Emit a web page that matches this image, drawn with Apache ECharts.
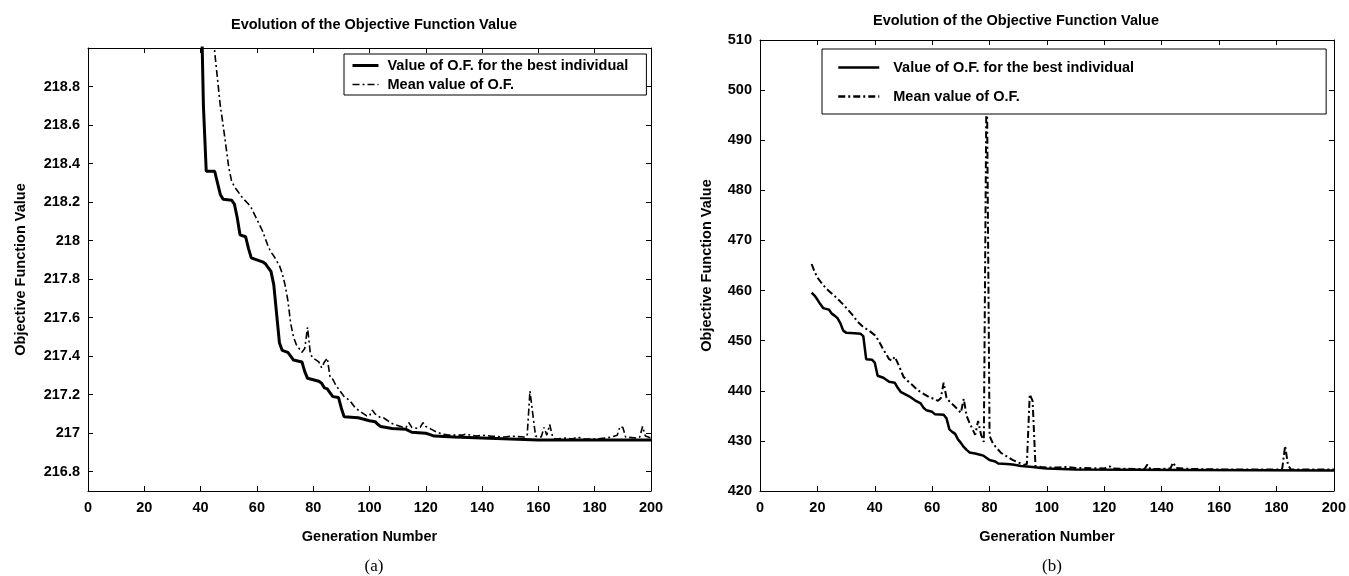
<!DOCTYPE html>
<html><head><meta charset="utf-8">
<script src="https://cdn.jsdelivr.net/npm/echarts@6/dist/echarts.min.js"></script>
<style>html,body{margin:0;padding:0;background:#fff}#c{width:1349px;height:576px}</style>
</head><body><div id="c"></div>
<script>
// ---------- data ----------
const chartTitle = 'Evolution of the Objective Function Value';
const xName = 'Generation Number';
const yName = 'Objective Function Value';
const bestName = 'Value of O.F. for the best individual';
const meanName = 'Mean value of O.F.';
const xTicks = [0, 20, 40, 60, 80, 100, 120, 140, 160, 180, 200];
const leftYTicks = [216.8, 217, 217.2, 217.4, 217.6, 217.8, 218, 218.2, 218.4, 218.6, 218.8];
const rightYTicks = [420, 430, 440, 450, 460, 470, 480, 490, 500, 510];

// (a) best individual
const aBestGen = [38, 40, 41, 42, 45, 46, 47, 48, 51, 52, 53, 54, 56, 57, 58, 62, 63, 64, 65, 66, 67, 68, 69, 71, 72, 73, 76, 77, 78, 82, 83, 84, 85, 86, 87, 89, 90, 91, 96, 100, 102, 103, 104, 108, 113, 115, 120, 121, 123, 130, 140, 150, 160, 200];
const aBestVal = [222.0, 219.4, 218.7, 218.36, 218.36, 218.30, 218.24, 218.215, 218.21, 218.19, 218.12, 218.03, 218.02, 217.96, 217.91, 217.89, 217.88, 217.86, 217.84, 217.77, 217.62, 217.47, 217.43, 217.42, 217.40, 217.38, 217.37, 217.32, 217.285, 217.27, 217.26, 217.235, 217.23, 217.21, 217.19, 217.185, 217.13, 217.085, 217.08, 217.065, 217.06, 217.045, 217.035, 217.025, 217.02, 217.005, 217.0, 216.995, 216.985, 216.98, 216.975, 216.97, 216.965, 216.965];
// (a) mean
const aMeanGen = [42, 44, 45, 46, 47, 48, 49, 50, 51, 52, 53, 55, 57, 58, 60, 62, 64, 65, 66, 68, 69, 70, 71, 72, 73, 74, 76, 77, 78, 79, 80, 82, 83, 84, 85, 86, 87, 88, 90, 91, 93, 95, 97, 99, 100, 101, 102, 104, 105, 106, 108, 110, 112, 113, 114, 115, 117, 118, 119, 120, 121, 122, 124, 126, 128, 133, 134, 136, 138, 140, 143, 148, 150, 155, 156, 157, 158, 159, 161, 162, 163, 164, 165, 166, 170, 172, 174, 176, 180, 184, 186, 188, 189, 190, 191, 195, 196, 197, 198, 200];
const aMeanVal = [222.0, 219.3, 218.98, 218.84, 218.70, 218.60, 218.49, 218.38, 218.31, 218.28, 218.26, 218.22, 218.19, 218.17, 218.11, 218.05, 217.97, 217.94, 217.92, 217.87, 217.83, 217.77, 217.69, 217.57, 217.50, 217.46, 217.42, 217.44, 217.55, 217.41, 217.39, 217.37, 217.34, 217.37, 217.39, 217.29, 217.28, 217.25, 217.21, 217.19, 217.17, 217.13, 217.11, 217.09, 217.09, 217.12, 217.10, 217.08, 217.08, 217.07, 217.05, 217.04, 217.03, 217.03, 217.055, 217.03, 217.025, 217.03, 217.055, 217.035, 217.03, 217.02, 217.005, 216.995, 216.99, 216.99, 216.995, 216.99, 216.985, 216.99, 216.985, 216.98, 216.985, 216.98, 216.985, 217.22, 217.10, 216.985, 216.98, 217.03, 216.99, 217.045, 216.985, 216.97, 216.975, 216.97, 216.98, 216.97, 216.97, 216.975, 216.98, 216.99, 217.035, 217.03, 216.98, 216.975, 216.98, 217.035, 216.985, 216.975];

// (b) best individual
const bBestGen = [18, 19, 20, 21, 22, 24, 25, 26, 27, 28, 29, 30, 33, 35, 36, 37, 39, 40, 41, 43, 44, 45, 47, 48, 49, 51, 52, 54, 56, 57, 58, 60, 61, 64, 65, 66, 67, 68, 69, 70, 71, 72, 73, 75, 77, 78, 79, 80, 82, 83, 86, 88, 91, 95, 98, 100, 110, 150, 200];
const bBestVal = [459.6, 459.0, 458.2, 457.3, 456.5, 456.2, 455.4, 455.0, 454.5, 453.5, 452.0, 451.6, 451.5, 451.4, 450.9, 446.3, 446.2, 445.6, 443.0, 442.6, 442.2, 441.8, 441.6, 440.6, 439.8, 439.2, 438.9, 438.1, 437.5, 436.6, 436.1, 435.8, 435.3, 435.2, 434.5, 432.3, 431.8, 431.4, 430.3, 429.6, 428.8, 428.2, 427.7, 427.5, 427.2, 427.0, 426.6, 426.2, 425.9, 425.5, 425.4, 425.3, 425.0, 424.8, 424.6, 424.5, 424.3, 424.2, 424.1];
// (b) mean
const bMeanGen = [18, 19, 20, 22, 24, 26, 28, 30, 32, 34, 36, 38, 40, 41, 42, 43, 44, 45, 46, 47, 48, 49, 50, 51, 53, 55, 57, 59, 61, 62, 63, 64, 65, 66, 68, 70, 71, 72, 73, 74, 75, 76, 77, 78, 79, 80, 81, 82, 84, 86, 88, 90, 92, 93, 94, 95, 96, 98, 100, 104, 107, 110, 120, 122, 123, 130, 134, 135, 136, 140, 143, 144, 145, 150, 160, 170, 181, 182, 183, 184, 185, 200];
const bMeanVal = [465.3, 463.8, 462.6, 461.1, 459.9, 458.9, 457.8, 456.6, 455.3, 453.8, 452.7, 452.0, 451.1, 450.3, 449.3, 448.2, 447.3, 446.3, 446.0, 446.8, 445.5, 444.2, 442.8, 442.2, 441.2, 440.1, 439.4, 438.7, 438.3, 438.0, 438.5, 441.6, 438.6, 437.9, 436.8, 435.6, 438.4, 435.0, 433.6, 432.4, 431.2, 434.0, 431.3, 429.8, 507.0, 431.0, 429.7, 428.9, 427.6, 426.9, 426.2, 425.7, 425.2, 425.4, 439.3, 438.0, 425.0, 424.8, 424.7, 424.7, 424.8, 424.6, 424.5, 424.9, 424.5, 424.4, 424.4, 425.3, 424.4, 424.4, 424.5, 425.7, 424.6, 424.4, 424.3, 424.3, 424.3, 424.5, 429.0, 425.2, 424.3, 424.3];

// ---------- helpers ----------
const zip = (xs, ys) => xs.map((x, i) => [x, ys[i]]);
const FONT = 'Liberation Sans';
const txt = { fontFamily: FONT, fontWeight: 'bold', fontSize: 14.5, color: '#000' };
const axisLine = { show: true, onZero: false, lineStyle: { color: '#000', width: 1 } };
const tickIn = { show: true, inside: true, length: 5, lineStyle: { color: '#000', width: 1 } };
const dashDot = [7, 3, 2, 3];
const noSymbol = { color: 'rgba(0,0,0,0)', borderColor: 'rgba(0,0,0,0)', borderWidth: 0, opacity: 0 };

function xAxes(g, nameGap) {
  return [
    { type: 'value', gridIndex: g, position: 'bottom', min: 0, max: 200, interval: 20,
      axisLine, axisTick: tickIn, splitLine: { show: false },
      axisLabel: Object.assign({ margin: 9 }, txt),
      name: xName, nameLocation: 'middle', nameGap: nameGap, nameTextStyle: txt },
    { type: 'value', gridIndex: g, position: 'top', min: 0, max: 200, interval: 20,
      axisLine, axisTick: tickIn, splitLine: { show: false }, axisLabel: { show: false } }
  ];
}
function yAxes(g, min, max, ticks, nameGap) {
  const fmt = v => String(+(+v).toFixed(1));
  return [
    { type: 'value', gridIndex: g, position: 'left', min, max,
      axisLine, splitLine: { show: false },
      axisTick: Object.assign({ customValues: ticks }, tickIn),
      axisLabel: Object.assign({ customValues: ticks, formatter: fmt, margin: 8 }, txt),
      name: yName, nameLocation: 'middle', nameGap: nameGap, nameRotate: 90, nameTextStyle: txt },
    { type: 'value', gridIndex: g, position: 'right', min, max,
      axisLine, splitLine: { show: false },
      axisTick: Object.assign({ customValues: ticks }, tickIn),
      axisLabel: { show: false } }
  ];
}

const chart = echarts.init(document.getElementById('c'), null, { renderer: 'canvas' });
chart.setOption({
  animation: false,
  backgroundColor: '#fff',
  title: [
    { text: chartTitle, left: 369, top: 12, textAlign: 'center', textStyle: txt },
    { text: chartTitle, left: 1011, top: 8, textAlign: 'center', textStyle: txt },
    { text: '(a)', left: 369, top: 553, textAlign: 'center',
      textStyle: { fontFamily: 'Liberation Serif', fontWeight: 'normal', fontSize: 17, color: '#000' } },
    { text: '(b)', left: 1047, top: 553, textAlign: 'center',
      textStyle: { fontFamily: 'Liberation Serif', fontWeight: 'normal', fontSize: 17, color: '#000' } }
  ],
  legend: [
    { left: 344, top: 54, orient: 'vertical', itemWidth: 26, itemHeight: 10, itemGap: 4,
      padding: [4, 18, 3, 7], backgroundColor: '#fff', borderColor: '#000', borderWidth: 1, borderRadius: 0,
      selectedMode: false, textStyle: Object.assign({ padding: [0, 0, 0, 4] }, txt),
      itemStyle: noSymbol,
      data: [
        { name: bestName, itemStyle: noSymbol, lineStyle: { width: 3, type: 'solid', color: '#000' } },
        { name: meanName, itemStyle: noSymbol, lineStyle: { width: 1.5, type: dashDot, color: '#000' } }
      ] },
    { left: 822, top: 49, orient: 'vertical', itemWidth: 41, itemHeight: 14, itemGap: 14,
      padding: [11, 192, 10, 15], backgroundColor: '#fff', borderColor: '#000', borderWidth: 1, borderRadius: 0,
      selectedMode: false, textStyle: Object.assign({ padding: [0, 0, 0, 9] }, txt),
      itemStyle: noSymbol,
      data: [
        { name: bestName, itemStyle: noSymbol, lineStyle: { width: 2.5, type: 'solid', color: '#000' } },
        { name: meanName, itemStyle: noSymbol, lineStyle: { width: 2.5, type: dashDot, color: '#000' } }
      ] }
  ],
  grid: [
    { left: 88, top: 48, width: 563, height: 443, containLabel: false },
    { left: 760, top: 40, width: 574, height: 451, containLabel: false }
  ],
  xAxis: [].concat(xAxes(0, 38), xAxes(1, 38)),
  yAxis: [].concat(yAxes(0, 216.7, 219, leftYTicks, 60), yAxes(1, 420, 510, rightYTicks, 46)),
  series: [
    { name: bestName, type: 'line', xAxisIndex: 0, yAxisIndex: 0, data: zip(aBestGen, aBestVal),
      showSymbol: false, symbol: 'none', itemStyle: { color: '#000' }, lineStyle: { color: '#000', width: 3 }, z: 3 },
    { name: meanName, type: 'line', xAxisIndex: 0, yAxisIndex: 0, data: zip(aMeanGen, aMeanVal),
      showSymbol: false, symbol: 'none', itemStyle: { color: '#000' }, lineStyle: { color: '#000', width: 1.6, type: dashDot }, z: 2 },
    { name: bestName, type: 'line', xAxisIndex: 2, yAxisIndex: 2, data: zip(bBestGen, bBestVal),
      showSymbol: false, symbol: 'none', itemStyle: { color: '#000' }, lineStyle: { color: '#000', width: 2.5 }, z: 3 },
    { name: meanName, type: 'line', xAxisIndex: 2, yAxisIndex: 2, data: zip(bMeanGen, bMeanVal),
      showSymbol: false, symbol: 'none', itemStyle: { color: '#000' }, lineStyle: { color: '#000', width: 2, type: dashDot }, z: 2 }
  ]
});
</script></body></html>
